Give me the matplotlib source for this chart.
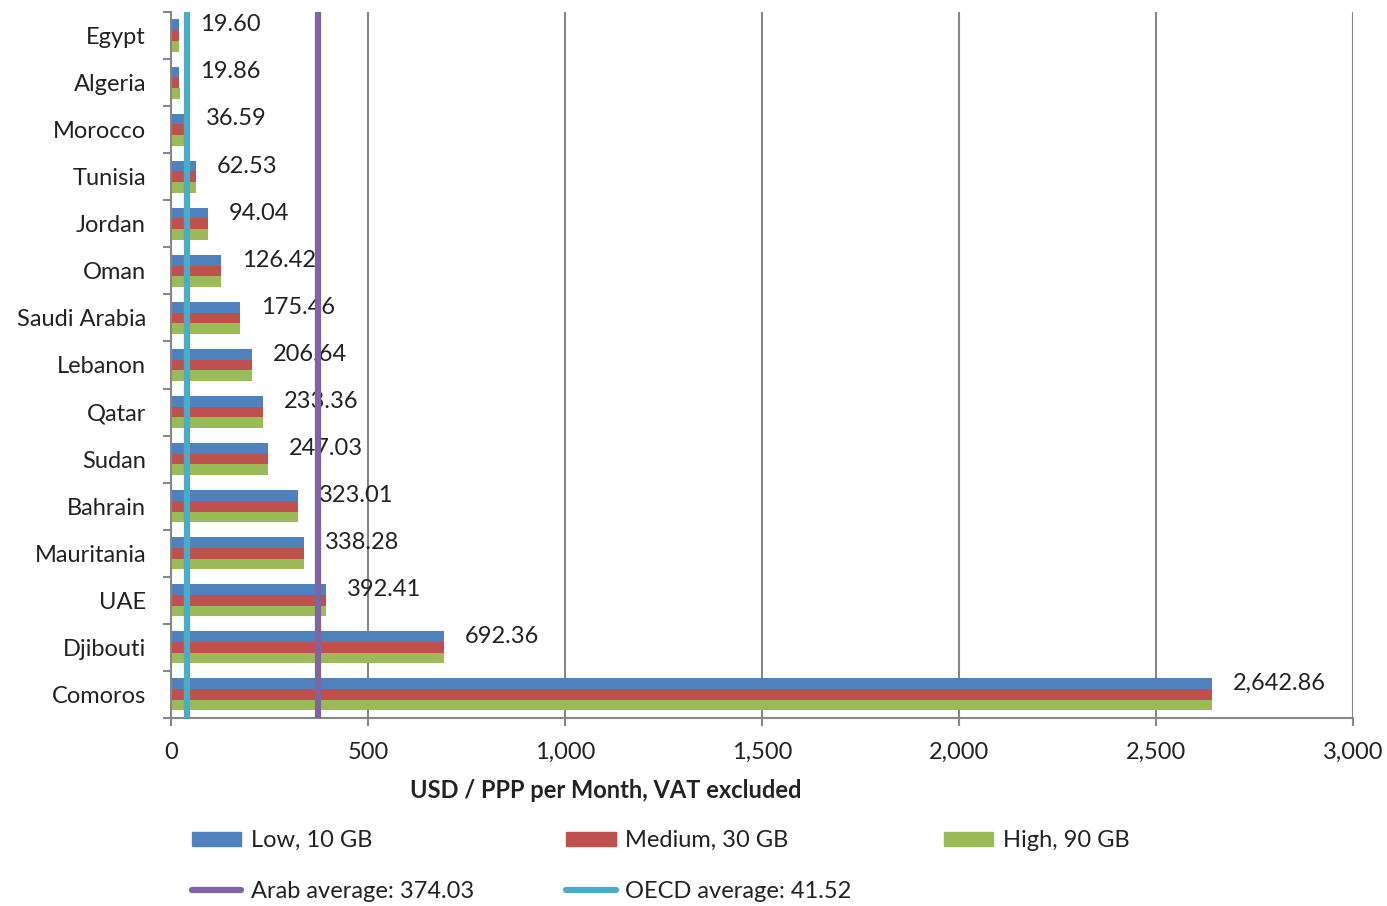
import numpy as np
import matplotlib.pyplot as plt
from matplotlib.patches import Patch
from matplotlib.lines import Line2D

plt.rcParams['font.family'] = ['Lato', 'DejaVu Sans']

countries = ["Egypt", "Algeria", "Morocco", "Tunisia", "Jordan", "Oman", "Saudi Arabia",
             "Lebanon", "Qatar", "Sudan", "Bahrain", "Mauritania", "UAE", "Djibouti", "Comoros"]
low_10gb = [19.60, 19.86, 36.59, 62.53, 94.04, 126.42, 175.46, 206.64, 233.36, 247.03,
            323.01, 338.28, 392.41, 692.36, 2642.86]
medium_30gb = [19.60, 19.86, 36.59, 62.53, 94.04, 126.42, 175.46, 206.64, 233.36, 247.03,
               323.01, 338.28, 392.41, 692.36, 2642.86]
high_90gb = [19.60, 22.0, 36.59, 62.53, 94.04, 126.42, 175.46, 206.64, 233.36, 247.03,
             323.01, 338.28, 392.41, 692.36, 2642.86]
arab_avg = 374.03
oecd_avg = 41.52

c_low, c_med, c_high = "#4F81BD", "#C0504D", "#9BBB59"
c_arab, c_oecd = "#8064A2", "#4BACC6"
grid_c = "#878787"
txt_c = "#222222"
fs = 17

fig = plt.figure(figsize=(13.87, 9.06), dpi=100)
ax = fig.add_axes([0.1233, 0.2075, 0.8522, 0.7793])

y = np.arange(len(countries))
h = 0.227
low_bars = ax.barh(y - h, low_10gb, height=h, color=c_low)
ax.barh(y, medium_30gb, height=h, color=c_med)
ax.barh(y + h, high_90gb, height=h, color=c_high)
ax.bar_label(low_bars, labels=[f"{v:,.2f}" for v in low_10gb], padding=15,
             fontsize=fs, color=txt_c)

ax.axvline(arab_avg, color=c_arab, lw=4.5, zorder=3)
ax.axvline(oecd_avg, color=c_oecd, lw=4.5, zorder=3)

ax.set_ylim(len(countries) - 0.5, -0.5)
ax.set_xlim(0, 3000)
ax.set_xticks(np.arange(0, 3001, 500))
ax.set_xticklabels([f"{v:,}" for v in range(0, 3001, 500)])
ax.set_yticks(y)
ax.set_yticklabels(countries)
ax.set_yticks(np.arange(-0.5, len(countries), 1), minor=True)
ax.tick_params(axis="y", which="major", length=0, pad=18, labelsize=fs, labelcolor=txt_c)
ax.tick_params(axis="y", which="minor", length=6, width=1.5, color=grid_c)
ax.tick_params(axis="x", length=6, width=1.5, color=grid_c, pad=11, labelsize=fs,
               labelcolor=txt_c)
ax.grid(axis="x", color=grid_c, lw=1.5)
ax.set_axisbelow(True)
for s in ("top", "right"):
    ax.spines[s].set_visible(False)
for s in ("left", "bottom"):
    ax.spines[s].set_color(grid_c)
    ax.spines[s].set_linewidth(1.5)

ax.set_xlabel("USD / PPP per Month, VAT excluded", fontsize=fs, fontweight="bold",
              color=txt_c)
ax.xaxis.set_label_coords(0.368, -0.0864)

handles = [Patch(color=c_low, label="Low, 10 GB"),
           Line2D([], [], color=c_arab, lw=4.5, solid_capstyle="round", label="Arab average: 374.03"),
           Patch(color=c_med, label="Medium, 30 GB"),
           Line2D([], [], color=c_oecd, lw=4.5, solid_capstyle="round", label="OECD average: 41.52"),
           Patch(color=c_high, label="High, 90 GB")]
fig.legend(handles=handles, ncol=3, loc="upper left", bbox_to_anchor=(0.123, 0.107),
           frameon=False, fontsize=fs, handlelength=2.1, handleheight=0.55,
           columnspacing=3.9, labelspacing=1.25, handletextpad=0.4, borderpad=0.4,
           labelcolor=txt_c)

fig.savefig("out.png", dpi=100)
